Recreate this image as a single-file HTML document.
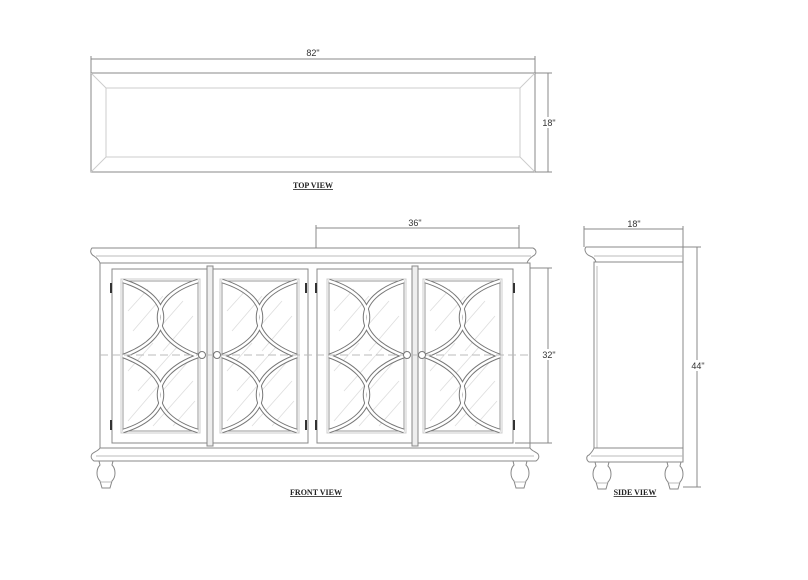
<!DOCTYPE html>
<html><head><style>
html,body{margin:0;padding:0;background:#fff;}
svg{display:block;}
text{font-family:"Liberation Sans",sans-serif;font-size:9px;fill:#333;}
.lbl{font-family:"Liberation Serif",serif;font-weight:bold;font-size:8px;fill:#222;text-decoration:underline;}
</style></head><body>
<svg width="808" height="580" viewBox="0 0 808 580" xmlns="http://www.w3.org/2000/svg">
<defs>
<g id="arcs">
  <path d="M0,0 C52,16 52,56 0,75"/><path d="M75,0 C23,16 23,56 75,75"/>
  <path d="M0,150 C52,134 52,94 0,75"/><path d="M75,150 C23,134 23,94 75,75"/>
</g>
<g id="panel">
  <rect x="0" y="0" width="75" height="150" fill="none" stroke="#999" stroke-width="1"/>
  <rect x="-2" y="-2" width="79" height="154" fill="none" stroke="#ccc" stroke-width="1"/>
  <g stroke="#ddd" stroke-width="0.8">
    <line x1="5" y1="30" x2="25" y2="8"/><line x1="10" y1="50" x2="40" y2="15"/>
    <line x1="25" y1="60" x2="60" y2="20"/><line x1="40" y1="70" x2="70" y2="35"/>
    <line x1="5" y1="90" x2="30" y2="62"/><line x1="15" y1="110" x2="55" y2="65"/>
    <line x1="35" y1="115" x2="70" y2="75"/><line x1="5" y1="140" x2="35" y2="105"/>
    <line x1="30" y1="145" x2="70" y2="100"/><line x1="50" y1="145" x2="72" y2="120"/>
  </g>
  <g fill="none">
    <use href="#arcs" stroke="#777" stroke-width="4.5"/>
    <use href="#arcs" stroke="#fff" stroke-width="2.5"/>
  </g>
</g>
<g id="foot">
  <path d="M-7,0 L7,0 L6,4 C10,8 10,16 6,20 L4,27 L-4,27 L-6,20 C-10,16 -10,8 -6,4 Z" fill="#fff" stroke="#888" stroke-width="1"/>
  <line x1="-5" y1="21" x2="5" y2="21" stroke="#bbb"/>
</g>
</defs>

<!-- TOP VIEW -->
<g fill="none" stroke="#888" stroke-width="1">
  <rect x="91" y="73" width="444" height="99"/>
  <rect x="106" y="88" width="414" height="69" stroke="#ccc"/>
  <line x1="91" y1="73" x2="106" y2="88" stroke="#ccc"/>
  <line x1="535" y1="73" x2="520" y2="88" stroke="#ccc"/>
  <line x1="91" y1="172" x2="106" y2="157" stroke="#ccc"/>
  <line x1="535" y1="172" x2="520" y2="157" stroke="#ccc"/>
  <line x1="91" y1="59" x2="535" y2="59"/>
  <line x1="91" y1="56" x2="91" y2="73"/>
  <line x1="535" y1="56" x2="535" y2="73"/>
  <line x1="548" y1="73" x2="548" y2="172"/>
  <line x1="535" y1="73" x2="552" y2="73"/>
  <line x1="535" y1="172" x2="552" y2="172"/>
</g>
<rect x="540" y="117" width="18" height="11" fill="#fff"/>
<text x="313" y="56" text-anchor="middle">82"</text>
<text x="549" y="126" text-anchor="middle">18"</text>
<text x="313" y="188" text-anchor="middle" class="lbl">TOP VIEW</text>

<!-- FRONT VIEW -->
<g fill="none" stroke="#888" stroke-width="1">
  <path d="M92,248 L533,248 C537,250 537,254 533,256 C530,258 528,260 527,263 L100,263 C99,260 97,258 94,256 C90,254 90,250 92,248 Z" fill="#fff"/>
  <line x1="96" y1="256" x2="531" y2="256" stroke="#bbb"/>
  <rect x="100" y="263" width="430" height="185"/>
  <rect x="112" y="269" width="95" height="174"/>
  <rect x="213" y="269" width="95" height="174"/>
  <rect x="317" y="269" width="95" height="174"/>
  <rect x="418" y="269" width="95" height="174"/>
  <rect x="207" y="266" width="6" height="180" fill="#eee"/>
  <rect x="412" y="266" width="6" height="180" fill="#eee"/>
  <path d="M100,448 L530,448 C532,451 536,452 538,454 C540,457 538,460 536,461 L94,461 C92,460 90,457 92,454 C94,452 98,451 100,448 Z" fill="#fff"/>
  <line x1="96" y1="456" x2="534" y2="456" stroke="#bbb"/>
</g>
<use href="#panel" x="123" y="281"/>
<use href="#panel" x="222" y="281"/>
<use href="#panel" x="329" y="281"/>
<use href="#panel" x="425" y="281"/>
<line x1="100" y1="355" x2="530" y2="355" stroke="#bbb" stroke-dasharray="8,4" stroke-width="1"/>
<g fill="#fff" stroke="#777">
  <circle cx="202" cy="355" r="3.5"/><circle cx="217" cy="355" r="3.5"/>
  <circle cx="407" cy="355" r="3.5"/><circle cx="422" cy="355" r="3.5"/>
</g>
<g fill="#333">
  <rect x="110" y="283" width="2" height="10"/><rect x="110" y="420" width="2" height="10"/>
  <rect x="513" y="283" width="2" height="10"/><rect x="513" y="420" width="2" height="10"/>
  <rect x="305" y="283" width="2" height="10"/><rect x="305" y="420" width="2" height="10"/>
  <rect x="315" y="283" width="2" height="10"/><rect x="315" y="420" width="2" height="10"/>
</g>
<use href="#foot" x="106" y="461"/>
<use href="#foot" x="520" y="461"/>
<g fill="none" stroke="#888" stroke-width="1">
  <line x1="316" y1="228" x2="519" y2="228"/>
  <line x1="316" y1="225" x2="316" y2="248"/>
  <line x1="519" y1="225" x2="519" y2="248"/>
  <line x1="548" y1="268" x2="548" y2="443"/>
  <line x1="530" y1="268" x2="552" y2="268"/>
  <line x1="515" y1="443" x2="552" y2="443"/>
</g>
<rect x="540" y="349" width="18" height="11" fill="#fff"/>
<text x="415" y="226" text-anchor="middle">36"</text>
<text x="549" y="358" text-anchor="middle">32"</text>
<text x="316" y="495" text-anchor="middle" class="lbl">FRONT VIEW</text>

<!-- SIDE VIEW -->
<g fill="none" stroke="#888" stroke-width="1">
  <path d="M586,247 L683,247 L683,262 L596,262 C595,259 593,257 590,256 C585,254 584,249 586,247 Z" fill="#fff"/>
  <line x1="594" y1="256" x2="683" y2="256" stroke="#bbb"/>
  <rect x="594" y="262" width="89" height="190"/>
  <line x1="597" y1="266" x2="597" y2="448" stroke="#bbb"/>
  <path d="M594,448 L683,448 L683,462 L589,462 C586,460 586,456 589,455 C591,453 593,451 594,448 Z" fill="#fff"/>
  <line x1="591" y1="456" x2="683" y2="456" stroke="#bbb"/>
</g>
<use href="#foot" x="602" y="462"/>
<use href="#foot" x="674" y="462"/>
<g fill="none" stroke="#888" stroke-width="1">
  <line x1="584" y1="229" x2="683" y2="229"/>
  <line x1="584" y1="226" x2="584" y2="247"/>
  <line x1="683" y1="226" x2="683" y2="247"/>
  <line x1="697" y1="247" x2="697" y2="487"/>
  <line x1="683" y1="247" x2="701" y2="247"/>
  <line x1="683" y1="487" x2="701" y2="487"/>
</g>
<rect x="689" y="360" width="18" height="11" fill="#fff"/>
<text x="634" y="227" text-anchor="middle">18"</text>
<text x="698" y="369" text-anchor="middle">44"</text>
<text x="635" y="495" text-anchor="middle" class="lbl">SIDE VIEW</text>
</svg>
</body></html>
